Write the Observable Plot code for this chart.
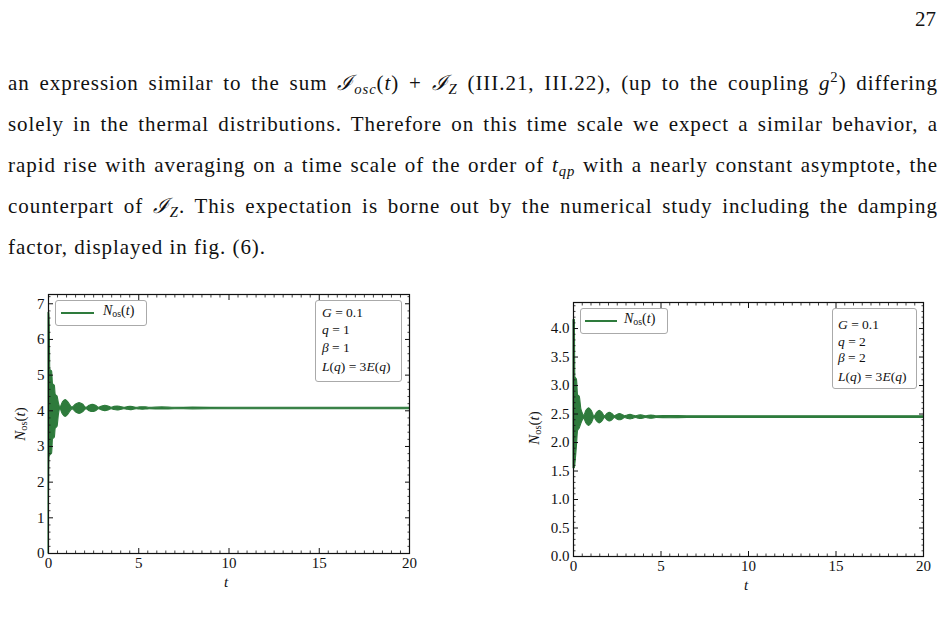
<!DOCTYPE html>
<html>
<head>
<meta charset="utf-8">
<script src="https://cdn.jsdelivr.net/npm/d3@7"></script>
<script src="https://cdn.jsdelivr.net/npm/@observablehq/plot@0.6"></script>
<style>
  html, body { margin: 0; padding: 0; background: #fff; }
  body { width: 945px; height: 642px; position: relative; overflow: hidden; font-family: "Liberation Serif", "DejaVu Serif", serif; color: #111; }
  .abs { position: absolute; }
  .pline { position: absolute; left: 8px; width: 930px; font-size: 21px; letter-spacing: 0.95px; line-height: 41px; height: 41px; white-space: nowrap; text-align: justify; text-align-last: justify; }
  .box { position: absolute; border: 1px solid #aaa; border-radius: 3px; background: #fff; box-sizing: border-box; }
  .leg { font-size: 14px; font-family: "Liberation Serif", serif; }
  .par { font-size: 13.5px; font-family: "Liberation Serif", serif; position: absolute; white-space: nowrap; line-height: 14px; }
  sub { font-size: 0.7em; vertical-align: -0.25em; line-height: 0; }
  .lab { position: absolute; font-size: 15px; white-space: nowrap; }
</style>
</head>
<body>
<div class="abs" style="left:915px; top:7px; font-size:21px;">27</div>
<div class="pline" style="top:63px;">an expression similar to the sum <i>ℐ<sub>osc</sub></i>(<i>t</i>) + <i>ℐ<sub>Z</sub></i> (III.21, III.22), (up to the coupling <i>g</i><sup style="font-size:0.7em;line-height:0">2</sup>) differing</div>
<div class="pline" style="top:104px;">solely in the thermal distributions. Therefore on this time scale we expect a similar behavior, a</div>
<div class="pline" style="top:145px;">rapid rise with averaging on a time scale of the order of <i>t<sub>qp</sub></i> with a nearly constant asymptote, the</div>
<div class="pline" style="top:186px;">counterpart of <i>ℐ<sub>Z</sub></i>. This expectation is borne out by the numerical study including the damping</div>
<div class="pline" style="top:227px; text-align-last:left;">factor, displayed in fig. (6).</div>

<div id="c1" class="abs" style="left:0px; top:285px;"></div>
<div id="c2" class="abs" style="left:520px; top:290px;"></div>

<!-- overlays chart 1 -->
<div class="box" style="left:55px; top:300px; width:92px; height:26px;"></div>
<div class="abs" style="left:61px; top:312px; width:33px; height:2px; background:#2e7b3c;"></div>
<div class="abs leg" style="left:103px; top:303px;"><i>N</i><sub>os</sub>(<i>t</i>)</div>
<div class="box" style="left:315px; top:300px; width:87px; height:82px;"></div>
<div class="par" style="left:322px; top:306px;"><i>G</i> = 0.1</div>
<div class="par" style="left:322px; top:323px;"><i>q</i> = 1</div>
<div class="par" style="left:322px; top:341px;"><i>β</i> = 1</div>
<div class="par" style="left:322px; top:360px;"><i>L</i>(<i>q</i>) = 3<i>E</i>(<i>q</i>)</div>
<div class="lab" style="left:224px; top:574px;"><i>t</i></div>
<div class="lab" style="left:20px; top:424px; transform: translate(-50%,-50%) rotate(-90deg);"><i>N</i><sub>os</sub>(<i>t</i>)</div>

<!-- overlays chart 2 -->
<div class="box" style="left:580px; top:308px; width:88px; height:26px;"></div>
<div class="abs" style="left:585px; top:320px; width:32px; height:2px; background:#2e7b3c;"></div>
<div class="abs leg" style="left:624px; top:311px;"><i>N</i><sub>os</sub>(<i>t</i>)</div>
<div class="box" style="left:832px; top:308px; width:85px; height:81px;"></div>
<div class="par" style="left:838px; top:318px;"><i>G</i> = 0.1</div>
<div class="par" style="left:838px; top:335px;"><i>q</i> = 2</div>
<div class="par" style="left:838px; top:351px;"><i>β</i> = 2</div>
<div class="par" style="left:838px; top:370px;"><i>L</i>(<i>q</i>) = 3<i>E</i>(<i>q</i>)</div>
<div class="lab" style="left:744px; top:577px;"><i>t</i></div>
<div class="lab" style="left:534px; top:428px; transform: translate(-50%,-50%) rotate(-90deg);"><i>N</i><sub>os</sub>(<i>t</i>)</div>

<script>
// ---- Data (lower / upper envelope of the fast oscillation) ----
const t1  = [0, 0.06, 0.1, 0.2, 0.25, 0.35, 0.4, 0.5, 0.58, 0.66,
             0.8, 0.95, 1.1, 1.33, 1.53, 1.72, 1.91, 2.1, 2.28, 2.46, 2.63, 2.8,
             2.97, 3.15, 3.33, 3.5, 3.66, 3.83, 4.0, 4.2, 4.37, 4.55, 4.72, 4.9,
             5.07, 5.25, 5.42, 5.6, 6.3, 7.0, 8, 10, 12, 15, 20];
const lo1 = [0, 2.7, 2.75, 2.8, 3.2, 3.25, 3.5, 3.55, 3.9, 4.035,
             3.895, 3.83, 3.895, 4.04, 3.955, 3.915, 3.955, 4.045, 3.99, 3.965, 3.99, 4.045,
             4.01, 3.99, 4.01, 4.045, 4.02, 4.01, 4.025, 4.045, 4.03, 4.02, 4.03, 4.045,
             4.035, 4.03, 4.035, 4.045, 4.035, 4.045, 4.04, 4.045, 4.045, 4.045, 4.045];
const hi1 = [6.75, 6.75, 5.15, 5.1, 4.75, 4.7, 4.45, 4.4, 4.2, 4.095,
             4.235, 4.30, 4.235, 4.09, 4.175, 4.215, 4.175, 4.085, 4.14, 4.165, 4.14, 4.085,
             4.12, 4.14, 4.12, 4.085, 4.11, 4.12, 4.105, 4.085, 4.10, 4.11, 4.10, 4.085,
             4.095, 4.10, 4.095, 4.085, 4.095, 4.085, 4.09, 4.085, 4.085, 4.085, 4.085];

const t2  = [0, 0.08, 0.1, 0.2, 0.26, 0.36, 0.45, 0.52, 0.6,
             0.74, 0.89, 1.04, 1.2, 1.35, 1.5, 1.65, 1.8, 1.94, 2.08, 2.22, 2.37,
             2.51, 2.65, 2.8, 2.95, 3.1, 3.26, 3.4, 3.55, 3.7, 3.85, 4.0, 4.15,
             4.3, 4.45, 4.6, 4.75, 5.5, 6.5, 10, 20];
const lo2 = [1.55, 1.55, 1.6, 1.95, 2.2, 2.25, 2.33, 2.38, 2.42,
             2.335, 2.29, 2.335, 2.43, 2.37, 2.335, 2.37, 2.43, 2.39, 2.37, 2.39, 2.43,
             2.405, 2.39, 2.405, 2.43, 2.415, 2.405, 2.415, 2.43, 2.42, 2.412, 2.42, 2.43,
             2.422, 2.417, 2.422, 2.43, 2.425, 2.43, 2.43, 2.43];
const hi2 = [4.15, 4.15, 3.15, 3.1, 2.83, 2.8, 2.58, 2.52, 2.47,
             2.555, 2.60, 2.555, 2.46, 2.52, 2.555, 2.52, 2.46, 2.50, 2.52, 2.50, 2.46,
             2.485, 2.50, 2.485, 2.46, 2.475, 2.485, 2.475, 2.46, 2.47, 2.478, 2.47, 2.46,
             2.468, 2.473, 2.468, 2.46, 2.465, 2.46, 2.46, 2.46];

const xMajor = [0, 5, 10, 15, 20];
const y1Major = [0, 1, 2, 3, 4, 5, 6, 7];
const y2Major = [0, 0.5, 1, 1.5, 2, 2.5, 3, 3.5, 4];

const green = "#2e7b3c";
const rng = (a, b, s) => d3.range(Math.round((b - a) / s) + 1).map(i => +(a + i * s).toFixed(3));
const xMinor = rng(0, 20, 0.5).filter(v => !xMajor.includes(v));
const y1Minor = rng(0, 7.2, 0.2).filter(v => !y1Major.includes(v));
const y2Minor = rng(0, 4.4, 0.1).filter(v => !y2Major.some(m => Math.abs(m - v) < 1e-6));

function chart({t, lo, hi, yDomain, yMajor, yMinor, yFmt, width, height, margins}) {
  const data = t.map((v, i) => ({t: v, lo: lo[i], hi: hi[i]}));
  const blank = () => "";
  return Plot.plot({
    width, height,
    marginLeft: margins[0], marginRight: margins[1], marginTop: margins[2], marginBottom: margins[3],
    x: {domain: [0, 20]},
    y: {domain: yDomain},
    style: {fontFamily: "Liberation Serif, DejaVu Serif, serif", fontSize: "15px", background: "transparent", color: "#111", overflow: "visible"},
    marks: [
      Plot.areaY(data, {x: "t", y1: "lo", y2: "hi", fill: green, stroke: green, strokeWidth: 1.1, curve: "monotone-x"}),
      Plot.axisX({ticks: xMajor, tickSize: 0, tickPadding: 4, tickFormat: d => d, label: null}),
      Plot.axisY({ticks: yMajor, tickSize: 0, tickPadding: 4, tickFormat: yFmt, label: null}),
      // inward ticks on all four sides
      Plot.axisX({ticks: xMajor, anchor: "bottom", tickSize: -5, tickFormat: blank, label: null, strokeWidth: 1}),
      Plot.axisX({ticks: xMajor, anchor: "top", tickSize: -5, tickFormat: blank, label: null, strokeWidth: 1}),
      Plot.axisX({ticks: xMinor, anchor: "bottom", tickSize: -2.5, tickFormat: blank, label: null, strokeWidth: 0.8}),
      Plot.axisX({ticks: xMinor, anchor: "top", tickSize: -2.5, tickFormat: blank, label: null, strokeWidth: 0.8}),
      Plot.axisY({ticks: yMajor, anchor: "left", tickSize: -5, tickFormat: blank, label: null, strokeWidth: 1}),
      Plot.axisY({ticks: yMajor, anchor: "right", tickSize: -5, tickFormat: blank, label: null, strokeWidth: 1}),
      Plot.axisY({ticks: yMinor, anchor: "left", tickSize: -2.5, tickFormat: blank, label: null, strokeWidth: 0.8}),
      Plot.axisY({ticks: yMinor, anchor: "right", tickSize: -2.5, tickFormat: blank, label: null, strokeWidth: 0.8}),
      Plot.frame({stroke: "#111", strokeWidth: 1.2})
    ]
  });
}

document.getElementById("c1").append(chart({
  t: t1, lo: lo1, hi: hi1, yDomain: [0, 7.26], yMajor: y1Major, yMinor: y1Minor, yFmt: d => d,
  width: 420, height: 320, margins: [48, 11, 9, 52]
}));
document.getElementById("c2").append(chart({
  t: t2, lo: lo2, hi: hi2, yDomain: [0, 4.457], yMajor: y2Major, yMinor: y2Minor, yFmt: d3.format(".1f"),
  width: 425, height: 315, margins: [53, 22, 12, 49]
}));
</script>
</body>
</html>
